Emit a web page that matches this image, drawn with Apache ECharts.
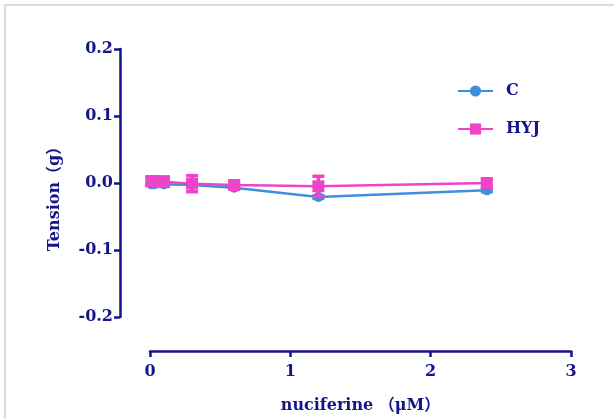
<!DOCTYPE html>
<html>
<head>
<meta charset="utf-8">
<script src="https://cdn.jsdelivr.net/npm/echarts@6/dist/echarts.min.js"></script>
<style>
html,body{margin:0;padding:0;background:#fff;}
#chart{width:614px;height:419px;}
</style>
</head>
<body>
<div id="chart"></div>
<script>
const doses = [0.01, 0.03, 0.1, 0.3, 0.6, 1.2, 2.4];
const cValues = [-0.002, -0.002, -0.002, -0.003, -0.007, -0.021, -0.011];
const hyjValues = [0.003, 0.003, 0.002, -0.001, -0.003, -0.005, 0.0];
const hyjErrors = [0.005, 0.004, 0.007, 0.012, 0.004, 0.015, 0.005];
const cErrors = [0.002, 0.002, 0.002, 0.002, 0.002, 0.002, 0.002];
const yTicks = [-0.2, -0.1, 0.0, 0.1, 0.2];
const xTicks = [0, 1, 2, 3];

const navy = '#14148c';
const blue = '#3f8fe0';
const pink = '#ee45c8';
const font = '"DejaVu Serif", "Noto Sans CJK SC", serif';

const chart = echarts.init(document.getElementById('chart'));

function errorSeries(name, values, errs, color) {
  return {
    type: 'custom',
    name: name,
    silent: true,
    z: 3,
    data: doses.map((d, i) => [d, values[i] - errs[i], values[i] + errs[i]]),
    renderItem: function (params, api) {
      const x = api.value(0);
      const lo = api.coord([x, api.value(1)]);
      const hi = api.coord([x, api.value(2)]);
      const w = 6;
      const style = { stroke: color, lineWidth: 3.5 };
      return {
        type: 'group',
        children: [
          { type: 'line', shape: { x1: lo[0], y1: lo[1], x2: hi[0], y2: hi[1] }, style: style },
          { type: 'line', shape: { x1: lo[0] - w, y1: lo[1], x2: lo[0] + w, y2: lo[1] }, style: style },
          { type: 'line', shape: { x1: hi[0] - w, y1: hi[1], x2: hi[0] + w, y2: hi[1] }, style: style }
        ]
      };
    }
  };
}

chart.setOption({
  animation: false,
  backgroundColor: '#fff',
  graphic: [
    { type: 'line', shape: { x1: 5, y1: 5, x2: 614, y2: 5 }, style: { stroke: '#d0d0d0', lineWidth: 1.5 } },
    { type: 'line', shape: { x1: 5, y1: 5, x2: 5, y2: 419 }, style: { stroke: '#d0d0d0', lineWidth: 1.5 } }
  ],
  grid: { left: 150, right: 43, top: 49, bottom: 99 },
  legend: {
    left: 452, top: 78,
    orient: 'vertical',
    itemWidth: 35, itemHeight: 14, itemGap: 22,
    textStyle: { color: navy, fontFamily: font, fontWeight: 'bold', fontSize: 16, padding: [0, 0, 0, 8] },
    data: ['C', 'HYJ']
  },
  xAxis: {
    type: 'value',
    min: xTicks[0], max: xTicks[xTicks.length - 1], interval: 1,
    offset: 34,
    splitLine: { show: false },
    axisLine: { show: true, onZero: false, lineStyle: { color: navy, width: 2.5 } },
    axisTick: { show: true, length: 6, lineStyle: { color: navy, width: 2.5 } },
    axisLabel: { color: navy, fontFamily: font, fontWeight: 'bold', fontSize: 16, margin: 13 },
    name: 'nuciferine （μM）',
    nameLocation: 'middle',
    nameGap: 47,
    nameTextStyle: { color: navy, fontFamily: font, fontWeight: 'bold', fontSize: 16 }
  },
  yAxis: {
    type: 'value',
    min: yTicks[0], max: yTicks[yTicks.length - 1], interval: 0.1,
    offset: 30,
    splitLine: { show: false },
    axisLine: { show: true, onZero: false, lineStyle: { color: navy, width: 2.5 } },
    axisTick: { show: true, length: 6, lineStyle: { color: navy, width: 2.5 } },
    axisLabel: {
      color: navy, fontFamily: font, fontWeight: 'bold', fontSize: 16, margin: 7,
      formatter: v => v.toFixed(1)
    },
    name: 'Tension（g）',
    nameLocation: 'middle',
    nameGap: 57,
    nameTextStyle: { color: navy, fontFamily: font, fontWeight: 'bold', fontSize: 16, padding: [0, 24, 0, 0] }
  },
  series: [
    errorSeries('C error', cValues, cErrors, blue),
    {
      name: 'C', type: 'line', z: 2,
      data: doses.map((d, i) => [d, cValues[i]]),
      symbol: 'circle', symbolSize: 10,
      lineStyle: { color: blue, width: 2.5 },
      itemStyle: { color: blue }
    },
    errorSeries('HYJ error', hyjValues, hyjErrors, pink),
    {
      name: 'HYJ', type: 'line', z: 4,
      data: doses.map((d, i) => [d, hyjValues[i]]),
      symbol: 'rect', symbolSize: 12,
      lineStyle: { color: pink, width: 2.5 },
      itemStyle: { color: pink }
    }
  ]
});
</script>
</body>
</html>
